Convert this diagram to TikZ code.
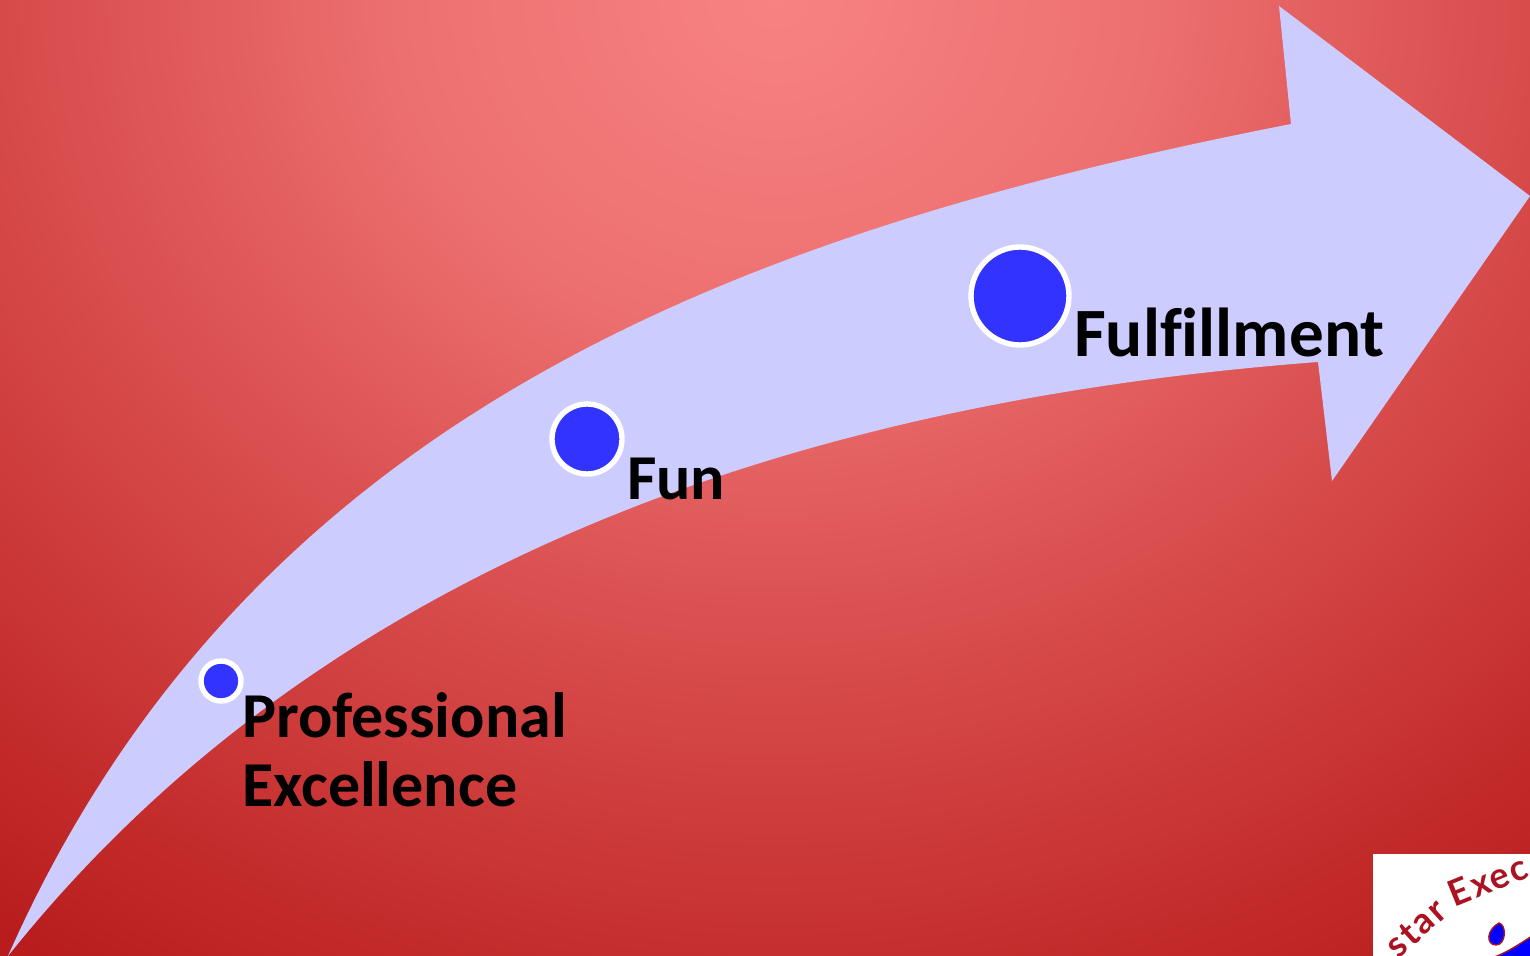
\documentclass[tikz,border=0pt]{standalone}
\usepackage{fontspec}
\setmainfont{Carlito}[Ligatures=NoCommon]
\newfontfamily\logofont{Lato}[LetterSpace=6]
\usetikzlibrary{positioning}
\definecolor{arrowlilac}{RGB}{204,204,255}
\definecolor{dotblue}{RGB}{51,51,255}
\definecolor{logored}{RGB}{170,20,34}
\pgfdeclareradialshading{redglow}{\pgfpoint{0bp}{0bp}}{
  rgb(0bp)=(0.97,0.51,0.51);
  rgb(6.8bp)=(0.93,0.44,0.44);
  rgb(12.5bp)=(0.86,0.32,0.32);
  rgb(19.3bp)=(0.78,0.19,0.19);
  rgb(24bp)=(0.72,0.11,0.11);
  rgb(50bp)=(0.72,0.11,0.11)}

\begin{document}
\begin{tikzpicture}[x=0.5pt,y=-0.5pt,
      dot/.style={circle, draw=white, line width=2.7pt, fill=dotblue, inner sep=0pt},
      lbl/.style={font=\bfseries\fontsize{32}{34.5}\selectfont, text=black, inner sep=0pt,
                  align=left},
      logotxt/.style={font=\logofont\bfseries\fontsize{18}{18}\selectfont, text=logored, inner sep=0pt}]
      \useasboundingbox (0,0) rectangle (1530,956);
      \clip (0,0) rectangle (1530,956);
      \shade[shading=redglow] (775,0) ellipse [x radius=1375, y radius=1210];
      % big arrow
      \fill[arrowlilac] (8,956) .. controls (250,410) and (750,230) .. (1291,124)
        -- (1279,6) -- (1530,196) -- (1332,481) -- (1318,362)
        .. controls (750,405) and (300,590) .. (8,956) -- cycle;
      \node[dot, minimum size=49pt] (fulfil) at (1020,296) {};
      \node[dot, minimum size=35pt] (fun) at (587,439) {};
      \node[dot, minimum size=20pt] (prof) at (221,681) {};
      \node[lbl, font=\bfseries\fontsize{34.6}{35}\selectfont, below right=6pt and 1pt of fulfil.east] (fulfiltxt) {Fulfillment};
      \node[lbl, below right=9.5pt and 1pt of fun.east] (funtxt) {Fun};
      \node[lbl, below right=5.5pt and -1pt of prof.east] (proftxt) {Professional\\Excellence};
      % logo corner
      \fill[white] (1373,854) rectangle (1530,956);
      \node[logotxt, rotate=42] (logostar) at (1416,928) {star};
      \node[logotxt, rotate=22] (logoexec) at (1488,880) {Exec};
      \fill[blue, draw=logored, line width=0.7pt] (1499,923) .. controls (1507,925) and (1506,945) .. (1496,945)
        .. controls (1486,945) and (1486,930) .. (1499,923) -- cycle;
      \fill[blue, draw=logored, line width=0.7pt] (1492,958) .. controls (1508,952) and (1518,945) .. (1532,936) -- (1532,958) -- cycle;
    \end{tikzpicture}
\end{document}
